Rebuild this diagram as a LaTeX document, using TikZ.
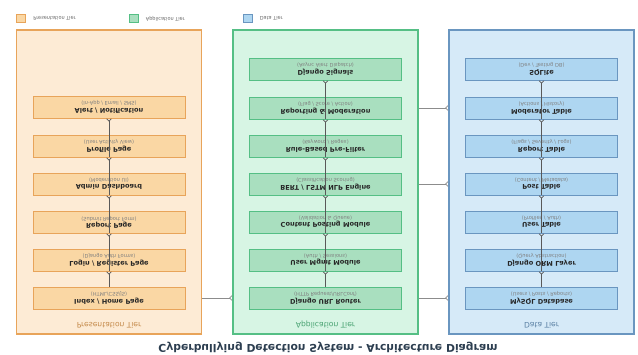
\documentclass[tikz,border=0pt]{standalone}
\usepackage{fontspec}
\setmainfont{DejaVu Sans}
\usetikzlibrary{arrows.meta, positioning}
\definecolor{presedge}{HTML}{E8A45A}
\definecolor{presback}{HTML}{FDEBD5}
\definecolor{presbox}{HTML}{FAD7A4}
\definecolor{appedge}{HTML}{55BF85}
\definecolor{appback}{HTML}{D7F5E4}
\definecolor{appbox}{HTML}{A9DFBF}
\definecolor{dataedge}{HTML}{6A96C0}
\definecolor{databack}{HTML}{D6EAF8}
\definecolor{databox}{HTML}{AED6F1}
\definecolor{titleblue}{HTML}{2C3E50}
\newcommand{\boxsub}[1]{\\[-0.8pt]{\fontsize{5.1}{5.5}\selectfont\mdseries\color{black!50}#1}}

\begin{document}
\begin{tikzpicture}[x=1pt, y=1pt, yscale=-1,
    every node/.append style={transform shape},
    tier/.style={draw=#1edge, fill=#1back, line width=1.3pt,
        minimum width=185pt, minimum height=304pt, inner sep=0pt},
    layer/.style={draw=#1edge, fill=#1box, line width=0.8pt,
        minimum width=152pt, minimum height=22pt, inner sep=0pt, align=center,
        font=\fontsize{6.6}{7}\selectfont\bfseries, text=black!85},
    tiername/.style={text=#1edge!85!black, font=\fontsize{7.6}{8}\selectfont},
    legbox/.style={draw=#1edge, fill=#1box, line width=0.6pt,
        minimum width=9pt, minimum height=8pt, inner sep=0pt},
    legtext/.style={font=\fontsize{5}{5.5}\selectfont, text=black!60, anchor=west},
    flow/.style={-{Straight Barb[reversed,length=2.4pt,width=5pt]}, draw=black!65, line width=0.7pt},
    link/.style={-{Straight Barb[reversed,length=2.4pt,width=5pt]}, draw=black!45, line width=0.7pt}]

    \useasboundingbox (0,0) rectangle (638,354);

    \node[font=\fontsize{10.8}{12}\selectfont\bfseries, text=titleblue] (title) at (328,347)
        {Cyberbullying Detection System - Architecture Diagram};

    % tiers
    \node[tier=pres] (pres) at (109,182) {};
    \node[tier=app] (app) at (325.5,182) {};
    \node[tier=data] (data) at (541.5,182) {};
    \node[tiername=pres] (presname) at (109,325) {Presentation Tier};
    \node[tiername=app] (appname) at (325.5,325) {Application Tier};
    \node[tiername=data] (dataname) at (541.5,325) {Data Tier};

    % presentation tier
    \node[layer=pres] (index) at (109,298) {Index / Home Page\boxsub{(HTML/CSS/JS)}};
    \node[layer=pres] (login) at (109,260) {Login / Register Page\boxsub{(Django Auth Forms)}};
    \node[layer=pres] (reportpage) at (109,222) {Report Page\boxsub{(Submit Report Form)}};
    \node[layer=pres] (admin) at (109,184) {Admin Dashboard\boxsub{(Moderation UI)}};
    \node[layer=pres] (profile) at (109,146) {Profile Page\boxsub{(User Activity View)}};
    \node[layer=pres] (alert) at (109,107) {Alert / Notification\boxsub{(In-App / Email / SMS)}};

    % application tier
    \node[layer=app] (router) at (325.5,298) {Django URL Router\boxsub{(HTTP Request/URLConf)}};
    \node[layer=app] (usermgmt) at (325.5,260) {User Mgmt Module\boxsub{(Auth / Sessions)}};
    \node[layer=app] (posting) at (325.5,222) {Content Posting Module\boxsub{(Validation \& Queue)}};
    \node[layer=app] (nlp) at (325.5,184) {BERT / LSTM NLP Engine\boxsub{(Classification Scoring)}};
    \node[layer=app] (prefilter) at (325.5,146) {Rule-Based Pre-Filter\boxsub{(Keyword / Regex)}};
    \node[layer=app] (moderation) at (325.5,108) {Reporting \& Moderation\boxsub{(Flag / Score / Action)}};
    \node[layer=app] (signals) at (325.5,69) {Django Signals\boxsub{(Async Alert Dispatch)}};

    % data tier
    \node[layer=data] (mysql) at (541.5,298) {MySQL Database\boxsub{(Users / Posts / Reports)}};
    \node[layer=data] (orm) at (541.5,260) {Django ORM Layer\boxsub{(Query Abstraction)}};
    \node[layer=data] (usertable) at (541.5,222) {User Table\boxsub{(Profiles / Auth)}};
    \node[layer=data] (posttable) at (541.5,184) {Post Table\boxsub{(Content / Metadata)}};
    \node[layer=data] (reporttable) at (541.5,146) {Report Table\boxsub{(Flags / Severity / Logs)}};
    \node[layer=data] (modtable) at (541.5,108) {Moderator Table\boxsub{(Actions / History)}};
    \node[layer=data] (sqlite) at (541.5,69) {SQLite\boxsub{(Dev / Testing DB)}};

    % flow inside the tiers
    \draw[flow] (index.south) -- (login.north);
    \draw[flow] (login.north) -- (reportpage.north);
    \draw[flow] (reportpage.north) -- (admin.north);
    \draw[flow] (admin.north) -- (profile.north);
    \draw[flow] (profile.north) -- (alert.north);

    \draw[flow] (router.south) -- (usermgmt.north);
    \draw[flow] (usermgmt.north) -- (posting.north);
    \draw[flow] (posting.north) -- (nlp.north);
    \draw[flow] (nlp.north) -- (prefilter.north);
    \draw[flow] (prefilter.north) -- (moderation.north);
    \draw[flow] (moderation.north) -- (signals.north);

    \draw[flow] (mysql.south) -- (orm.north);
    \draw[flow] (orm.north) -- (usertable.north);
    \draw[flow] (usertable.north) -- (posttable.north);
    \draw[flow] (posttable.north) -- (reporttable.north);
    \draw[flow] (reporttable.north) -- (modtable.north);
    \draw[flow] (modtable.north) -- (sqlite.north);

    % links between the tiers
    \draw[link] (pres.east |- index) -- (app.west |- router);
    \draw[link] (app.east |- router) -- (data.west |- mysql);
    \draw[link] (app.east |- nlp) -- (data.west |- posttable);
    \draw[link] (app.east |- moderation) -- (data.west |- modtable);

    % legend
    \node[legbox=pres] (legpres) at (21,18.5) {};
    \node[legtext, right=4pt of legpres] {Presentation Tier};
    \node[legbox=app] (legapp) at (133.5,18.5) {};
    \node[legtext, right=4pt of legapp] {Application Tier};
    \node[legbox=data] (legdata) at (247.5,18.5) {};
    \node[legtext, right=4pt of legdata] {Data Tier};

\end{tikzpicture}
\end{document}
